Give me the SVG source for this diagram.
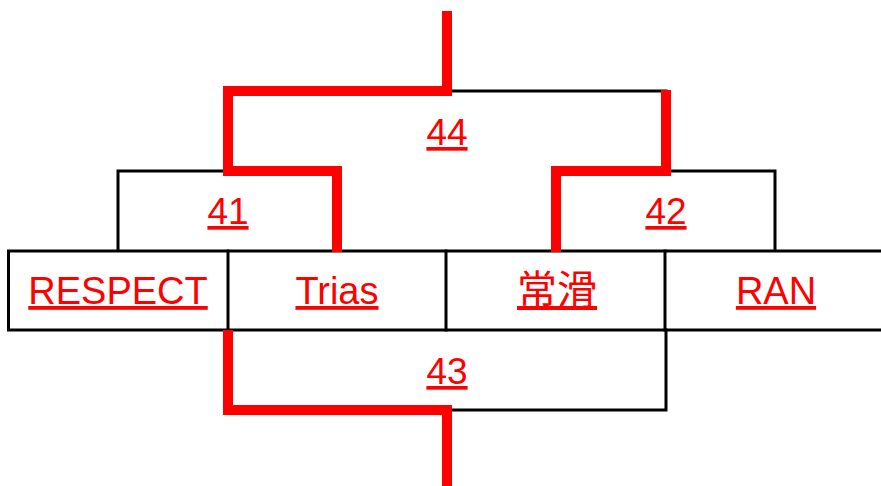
<svg xmlns="http://www.w3.org/2000/svg" width="881" height="486" viewBox="0 0 881 486">
<style>
.blk{fill:none;stroke:#000;stroke-width:3;stroke-linecap:square}
.red{fill:none;stroke:#ff0000;stroke-width:10;stroke-linejoin:miter;stroke-linecap:butt}
.lbl{font-family:"Liberation Sans","Noto Sans CJK JP",sans-serif;font-size:38px;fill:#ff0000;text-anchor:middle;text-decoration:underline}
.num{font-size:37px}
.cjk{font-size:40px}
</style>
<rect width="881" height="486" fill="#fff"/>
<g id="table">
<rect x="8.5" y="251" width="890" height="79" class="blk"/>
<line x1="228" y1="251" x2="228" y2="330" class="blk"/>
<line x1="446" y1="251" x2="446" y2="330" class="blk"/>
<line x1="665" y1="251" x2="665" y2="330" class="blk"/>
</g>
<g id="connectors">
<polyline points="118,250 118,171 228,171" class="blk"/>
<polyline points="666,171 775,171 775,250" class="blk"/>
<polyline points="447,91 666,91" class="blk"/>
<polyline points="447,410 666,410 666,330" class="blk"/>
<polyline points="337,252 337,171 228,171 228,91 447,91 447,11" class="red"/>
<polyline points="556,252 556,171 666,171 666,90" class="red"/>
<polyline points="228,330 228,410 447,410 447,486" class="red"/>
</g>
<g id="n-respect"><text x="118" y="304" class="lbl">RESPECT</text></g>
<g id="n-trias"><text x="337" y="304" class="lbl">Trias</text></g>
<g id="n-tokoname"><text x="557" y="304" class="lbl cjk">常滑</text></g>
<g id="n-ran"><text x="776" y="304" class="lbl">RAN</text></g>
<g id="m41"><text x="228" y="224" class="lbl num">41</text></g>
<g id="m42"><text x="666" y="224" class="lbl num">42</text></g>
<g id="m44"><text x="447" y="145" class="lbl num">44</text></g>
<g id="m43"><text x="447" y="384" class="lbl num">43</text></g>
</svg>
